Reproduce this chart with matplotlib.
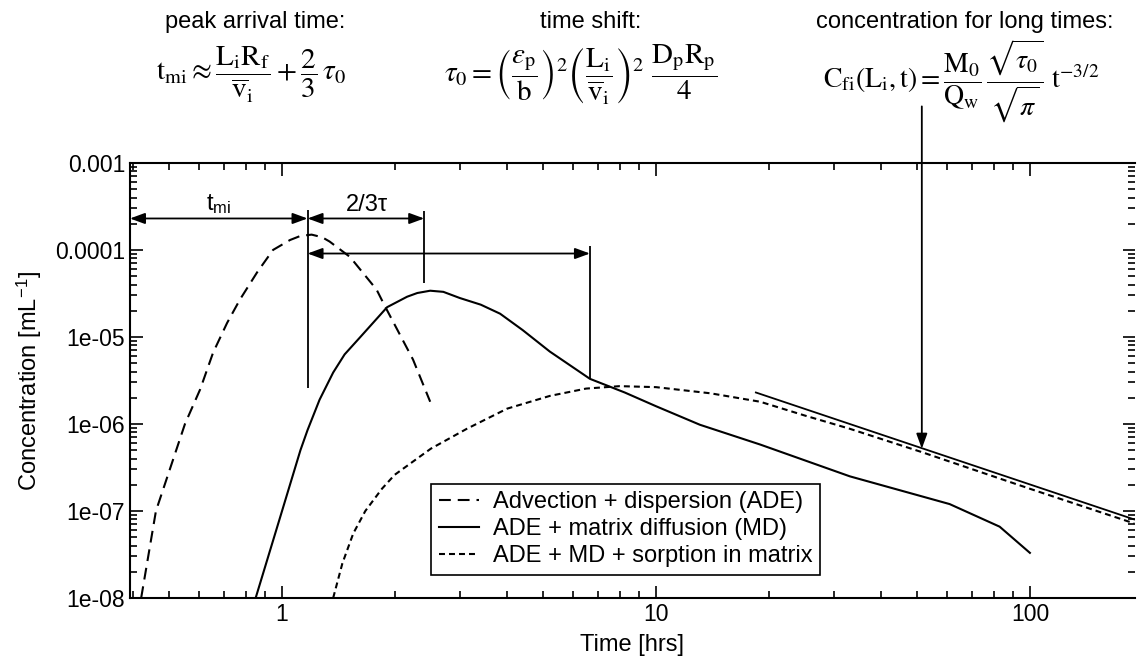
import numpy as np
import matplotlib
matplotlib.use("Agg")
import matplotlib.pyplot as plt
from matplotlib.ticker import LogLocator, FuncFormatter, NullFormatter

plt.rcParams['font.family'] = ['Liberation Sans', 'DejaVu Sans']
plt.rcParams['mathtext.fontset'] = 'stix'
plt.rcParams['lines.scale_dashes'] = False

# curves (time [hrs], concentration [1/mL])
ade_t = [0.42, 0.46, 0.55, 0.604, 0.654, 0.713, 0.772, 0.857, 0.946, 1.05, 1.12, 1.2, 1.28, 1.34, 1.52,
         1.79, 1.88, 2.24, 2.49]
ade_c = [1e-8, 1e-7, 1e-6, 2.5e-6, 6.6e-6, 1.45e-5, 2.7e-5, 5.5e-5, 1e-4, 1.3e-4, 1.45e-4, 1.5e-4,
         1.4e-4, 1.25e-4, 8.3e-5, 3.5e-5, 2.3e-5, 5.5e-6, 1.8e-6]

md_t = [0.85, 1.0, 1.12, 1.17, 1.26, 1.37, 1.47, 1.62, 1.91, 2.16, 2.3, 2.49, 2.7, 2.99, 3.4, 3.83, 4.4,
        5.2, 6.66, 8.25, 10, 13.1, 19, 33, 61, 83, 100]
md_c = [1e-8, 1e-7, 5e-7, 8.5e-7, 1.9e-6, 3.9e-6, 6.3e-6, 1e-5, 2.2e-5, 2.9e-5, 3.2e-5, 3.4e-5, 3.3e-5,
        2.8e-5, 2.35e-5, 1.85e-5, 1.2e-5, 6.8e-6, 3.3e-6, 2.3e-6, 1.6e-6, 9.8e-7, 5.8e-7, 2.5e-7,
        1.2e-7, 6.6e-8, 3.3e-8]

sorp_t = [1.37, 1.45, 1.55, 1.67, 1.85, 2.0, 2.5, 3.12, 4.0, 5.2, 6.5, 8.0, 10, 14, 19, 25, 33, 51, 100, 190]
sorp_c = [1e-8, 2.5e-8, 5.5e-8, 1e-7, 1.8e-7, 2.6e-7, 5.2e-7, 8.8e-7, 1.5e-6, 2.1e-6, 2.55e-6, 2.72e-6,
          2.65e-6, 2.25e-6, 1.8e-6, 1.25e-6, 8.8e-7, 4.8e-7, 1.8e-7, 7.2e-8]

# long-time asymptote t^-3/2
asym_t = [18.5, 190]
asym_c = [2.3e-6, 8e-8]

labels = ["Advection + dispersion (ADE)", "ADE + matrix diffusion (MD)", "ADE + MD + sorption in matrix"]
yticks = [1e-8, 1e-7, 1e-6, 1e-5, 1e-4, 1e-3]
ytick_labels = ["1e-08", "1e-07", "1e-06", "1e-05", "0.0001", "0.001"]

# annotation positions
t_peak, t_shift, t_tau, t_long = 1.17, 2.40, 6.66, 51.4

fig = plt.figure(figsize=(11.4, 6.7), dpi=100)
ax = fig.add_axes([0.114, 0.1075, 0.8816, 0.6493])
ax.set_xscale('log')
ax.set_yscale('log')
ax.set_xlim(0.392, 191)
ax.set_ylim(1e-8, 1e-3)

ax.plot(ade_t, ade_c, color='k', lw=1.5, dashes=(8.5, 5), label=labels[0])
ax.plot(md_t, md_c, color='k', lw=1.5, label=labels[1])
ax.plot(sorp_t, sorp_c, color='k', lw=1.5, dashes=(4.3, 2.9), label=labels[2])
ax.plot(asym_t, asym_c, color='k', lw=1.3)

# vertical marker lines
ax.vlines([t_peak, t_shift, t_tau], [2.6e-6, 4.2e-5, 3.3e-6], [2.9e-4, 2.8e-4, 1.1e-4], color='k', lw=1.3)

arr = dict(arrowstyle='<|-|>,head_length=0.6,head_width=0.22', color='k', lw=1.3,
           shrinkA=0, shrinkB=0, mutation_scale=15)
ax.annotate('', xy=(ax.get_xlim()[0], 2.3e-4), xytext=(t_peak, 2.3e-4), arrowprops=arr)
ax.annotate('', xy=(t_peak, 2.3e-4), xytext=(t_shift, 2.3e-4), arrowprops=arr)
ax.annotate('', xy=(t_peak, 9.1e-5), xytext=(t_tau, 9.1e-5), arrowprops=arr)
ax.text(0.675, 3.3e-4, r't$_\mathregular{mi}$', fontsize=17, ha='center', va='center')
ax.text(1.69, 3.3e-4, '2/3τ', fontsize=17, ha='center', va='center')

arr1 = dict(arrowstyle='-|>,head_length=0.6,head_width=0.22', color='k', lw=1.3,
            shrinkA=0, shrinkB=0, mutation_scale=15)
ax.annotate('', xy=(t_long, 5.2e-7), xytext=(t_long, 1.13),
            textcoords=('data', 'axes fraction'), arrowprops=arr1, annotation_clip=False)

# ticks
ax.set_yticks(yticks)
ax.set_yticklabels(ytick_labels)
ax.yaxis.set_minor_locator(LogLocator(base=10, subs=np.arange(2, 10), numticks=20))
ax.yaxis.set_minor_formatter(NullFormatter())
ax.xaxis.set_major_locator(LogLocator(base=10, numticks=10))
ax.xaxis.set_major_formatter(FuncFormatter(lambda v, p: '%g' % v))
ax.xaxis.set_minor_locator(LogLocator(base=10, subs=np.arange(2, 10), numticks=20))
ax.xaxis.set_minor_formatter(NullFormatter())
ax.tick_params(which='both', direction='in', top=True, right=True, labelsize=16.5, width=1.2)
ax.tick_params(which='major', length=9)
ax.tick_params(which='minor', length=5)
for s in ['left', 'bottom', 'top']:
    ax.spines[s].set_linewidth(1.5)
ax.spines['right'].set_visible(False)

ax.set_xlabel('Time [hrs]', fontsize=17, labelpad=6)
ax.set_ylabel(r'Concentration [mL$^\mathregular{-1}$]', fontsize=17, labelpad=8)

leg = ax.legend(loc='upper left', bbox_to_anchor=(0.300, 0.262), borderaxespad=0, fontsize=17,
                fancybox=False, edgecolor='k', framealpha=1, handlelength=1.7, handletextpad=0.6,
                labelspacing=0.22, borderpad=0.3)
leg.get_frame().set_linewidth(1.2)

# headings and formulas
fig.text(0.224, 0.967, 'peak arrival time:', fontsize=17, ha='center', va='center')
fig.text(0.518, 0.967, 'time shift:', fontsize=17, ha='center', va='center')
fig.text(0.846, 0.967, 'concentration for long times:', fontsize=17, ha='center', va='center')

fig.text(0.220, 0.888, r'$\mathrm{t_{mi}} \approx \dfrac{\mathrm{L_i R_f}}{\overline{\mathrm{v}}_\mathrm{i}} + \dfrac{2}{3}\,\tau_0$',
         fontsize=21, ha='center', va='center')
fig.text(0.509, 0.888, r'$\tau_0 = \left(\dfrac{\varepsilon_\mathrm{p}}{\mathrm{b}}\right)^2 \left(\dfrac{\mathrm{L_i}}{\overline{\mathrm{v}}_\mathrm{i}}\right)^2\ \dfrac{\mathrm{D_p R_p}}{4}$',
         fontsize=21, ha='center', va='center')
fig.text(0.843, 0.879, r'$\mathrm{C_{fi}}\left(\mathrm{L_i, t}\right) = \dfrac{\mathrm{M_0}}{\mathrm{Q_w}}\,\dfrac{\sqrt{\tau_0}}{\sqrt{\pi}}\ \mathrm{t}^{-3/2}$',
         fontsize=20, ha='center', va='center')

fig.savefig('out.png', dpi=100)
